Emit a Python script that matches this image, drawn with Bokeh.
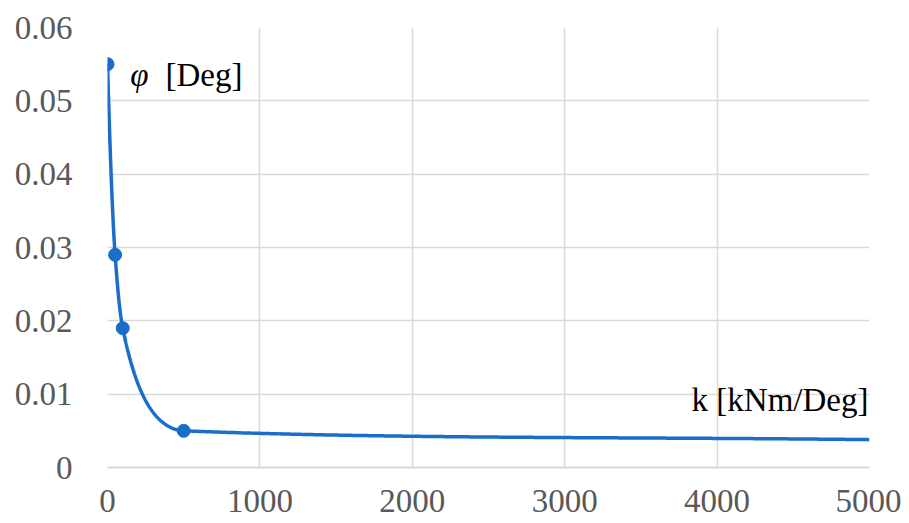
import numpy as np
from bokeh.plotting import figure
from bokeh.models import Label, FixedTicker, Range1d
from bokeh.embed import file_html
from bokeh.resources import INLINE

# data
k_values = [0, 50, 100, 500, 5000]
phi_values = [0.055, 0.029, 0.019, 0.005, 0.0038]
marker_k = [0, 50, 100, 500]
marker_phi = [0.055, 0.029, 0.019, 0.005]
x_ticks = [0, 1000, 2000, 3000, 4000, 5000]
y_ticks = [0, 0.01, 0.02, 0.03, 0.04, 0.05, 0.06]

BLUE = "#1a6dca"
FONT = "Liberation Serif"


def pchip(x, y, xs):
    x = np.asarray(x, float); y = np.asarray(y, float)
    h = np.diff(x); d = np.diff(y) / h
    n = len(x); m = np.zeros(n)
    for i in range(1, n - 1):
        if d[i - 1] * d[i] > 0:
            w1 = 2 * h[i] + h[i - 1]; w2 = h[i] + 2 * h[i - 1]
            m[i] = (w1 + w2) / (w1 / d[i - 1] + w2 / d[i])
    m[0] = d[0]; m[-1] = d[-1]
    out = np.empty_like(xs)
    for j, xv in enumerate(xs):
        i = min(max(np.searchsorted(x, xv) - 1, 0), n - 2)
        t = (xv - x[i]) / h[i]
        h00 = 2 * t**3 - 3 * t**2 + 1; h10 = t**3 - 2 * t**2 + t
        h01 = -2 * t**3 + 3 * t**2; h11 = t**3 - t**2
        out[j] = h00 * y[i] + h10 * h[i] * m[i] + h01 * y[i + 1] + h11 * h[i] * m[i + 1]
    return out


# smooth curve through the data points (monotone interpolation in log space)
xs = np.unique(np.concatenate([np.linspace(k_values[i], k_values[i + 1], 300)
                               for i in range(len(k_values) - 1)]))
ys = np.exp(pchip(k_values, np.log(phi_values), xs))

p = figure(width=901, height=523, output_backend="svg", toolbar_location=None,
           x_range=Range1d(0, 5000), y_range=Range1d(0, 0.06),
           min_border_left=107, min_border_right=32, min_border_top=27, min_border_bottom=56)
p.outline_line_color = None
p.background_fill_color = "white"
p.border_fill_color = "white"

p.xaxis.ticker = FixedTicker(ticks=x_ticks)
p.yaxis.ticker = FixedTicker(ticks=y_ticks)
p.yaxis.major_label_overrides = {0: "0"}
for ax in (p.xaxis, p.yaxis):
    ax.major_label_text_font = FONT
    ax.major_label_text_font_size = "33px"
    ax.major_label_text_color = "#595959"
    ax.major_tick_line_color = None
    ax.minor_tick_line_color = None
p.xaxis.axis_line_color = "#d9d9d9"
p.xaxis.axis_line_width = 2
p.yaxis.axis_line_color = None
p.xaxis.major_label_standoff = 16
p.yaxis.major_label_standoff = 29

p.xgrid.grid_line_color = "#d9d9d9"
p.ygrid.grid_line_color = "#d9d9d9"
p.xgrid.grid_line_width = 1.5
p.ygrid.grid_line_width = 1.5

p.line(xs, ys, line_color=BLUE, line_width=3.5)
p.scatter(marker_k, marker_phi, size=13, fill_color=BLUE, line_color=BLUE)

p.add_layout(Label(x=150, y=0.0535, text="φ", text_font=FONT, text_font_style="italic",
                   text_font_size="33px", text_baseline="middle", text_align="left",
                   text_color="black"))
p.add_layout(Label(x=380, y=0.0535, text="[Deg]", text_font=FONT,
                   text_font_size="33px", text_baseline="middle", text_align="left",
                   text_color="black"))
p.add_layout(Label(x=4993, y=0.0092, text="k [kNm/Deg]", text_font=FONT,
                   text_font_size="33px", text_baseline="middle", text_align="right",
                   text_color="black"))

open("out.html", "w").write(file_html(p, INLINE))
